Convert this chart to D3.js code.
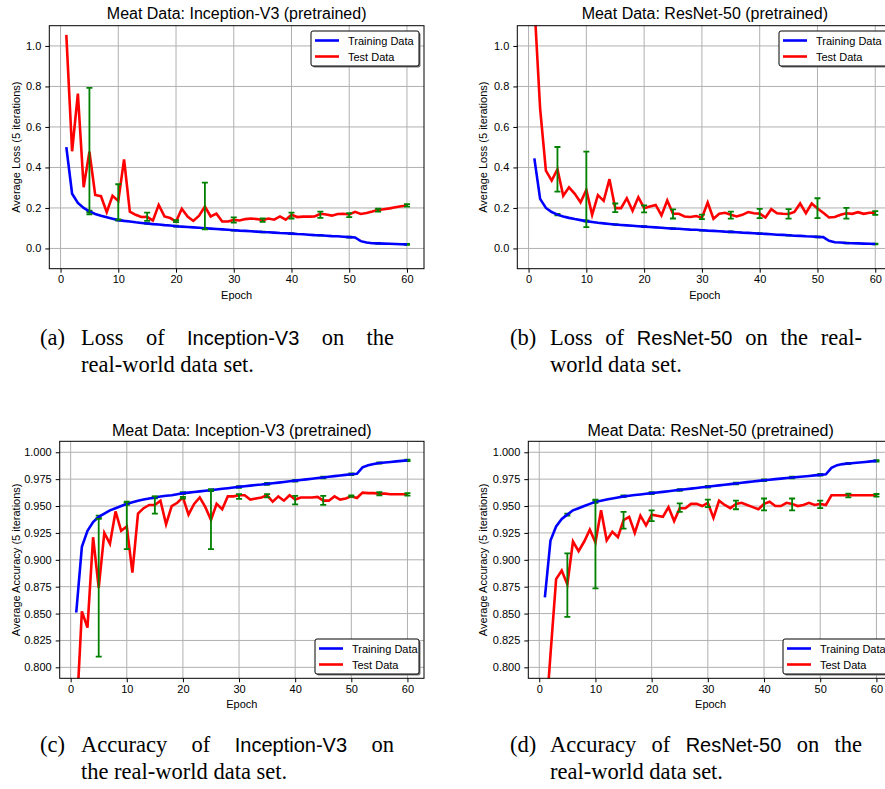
<!DOCTYPE html>
<html lang="en">
<head>
<meta charset="UTF-8">
<title>Meat Data</title>
<script src="https://d3js.org/d3.v7.min.js"></script>
<style>
  body { margin: 0; background: #fff; }
  svg { display: block; }
</style>
</head>
<body>
<div id="container"></div>
<script>
// ---- data ----
var epochs = d3.range(1, 61);
var errEpochs = [5, 10, 15, 20, 25, 30, 35, 40, 45, 50, 55, 60];
var xTicks = [0, 10, 20, 30, 40, 50, 60];
var lossTicks = [0, 0.2, 0.4, 0.6, 0.8, 1.0];
var accTicks = [0.8, 0.825, 0.85, 0.875, 0.9, 0.925, 0.95, 0.975, 1.0];
var seriesNames = ["Training Data", "Test Data"];

var incLossTrain = [0.50, 0.27, 0.225, 0.200, 0.183, 0.170, 0.161, 0.154, 0.147, 0.140,
  0.136, 0.133, 0.129, 0.126, 0.123, 0.120, 0.118, 0.115, 0.113, 0.110,
  0.108, 0.106, 0.104, 0.102, 0.100, 0.098, 0.096, 0.094, 0.092, 0.090,
  0.088, 0.087, 0.085, 0.083, 0.081, 0.080, 0.078, 0.076, 0.075, 0.073,
  0.071, 0.070, 0.068, 0.066, 0.065, 0.063, 0.061, 0.060, 0.058, 0.056,
  0.054, 0.036, 0.029, 0.026, 0.025, 0.024, 0.023, 0.022, 0.021, 0.020];
var incLossTest = [1.055, 0.48, 0.765, 0.302, 0.478, 0.264, 0.258, 0.179, 0.26, 0.235,
  0.44, 0.182, 0.166, 0.155, 0.156, 0.138, 0.215, 0.158, 0.15, 0.133,
  0.196, 0.158, 0.136, 0.162, 0.207, 0.158, 0.172, 0.133, 0.133, 0.141,
  0.138, 0.145, 0.148, 0.145, 0.14, 0.148, 0.142, 0.158, 0.142, 0.166,
  0.155, 0.157, 0.157, 0.158, 0.171, 0.168, 0.162, 0.17, 0.171, 0.168,
  0.181, 0.17, 0.175, 0.182, 0.19, 0.194, 0.198, 0.203, 0.208, 0.212];
var incLossLo = [0.169, 0.141, 0.136, 0.130, 0.094, 0.128, 0.131, 0.148, 0.151, 0.155, 0.182, 0.207];
var incLossHi = [0.793, 0.317, 0.177, 0.140, 0.325, 0.153, 0.148, 0.177, 0.182, 0.174, 0.196, 0.219];

var resLossTrain = [0.445, 0.245, 0.200, 0.180, 0.167, 0.158, 0.151, 0.145, 0.140, 0.135,
  0.131, 0.127, 0.124, 0.121, 0.118, 0.116, 0.114, 0.112, 0.110, 0.108,
  0.106, 0.104, 0.102, 0.100, 0.098, 0.097, 0.095, 0.093, 0.092, 0.090,
  0.088, 0.087, 0.085, 0.083, 0.082, 0.080, 0.078, 0.077, 0.075, 0.073,
  0.072, 0.070, 0.068, 0.067, 0.065, 0.063, 0.062, 0.060, 0.059, 0.057,
  0.056, 0.038, 0.031, 0.029, 0.027, 0.026, 0.025, 0.024, 0.023, 0.022];
var resLossTest = [1.21, 0.69, 0.384, 0.335, 0.391, 0.26, 0.302, 0.27, 0.228, 0.289,
  0.166, 0.263, 0.235, 0.342, 0.199, 0.199, 0.248, 0.186, 0.253, 0.199,
  0.207, 0.215, 0.163, 0.237, 0.171, 0.171, 0.158, 0.155, 0.16, 0.152,
  0.227, 0.147, 0.171, 0.176, 0.166, 0.158, 0.166, 0.18, 0.174, 0.172,
  0.153, 0.194, 0.174, 0.171, 0.17, 0.18, 0.222, 0.174, 0.222, 0.197,
  0.176, 0.153, 0.155, 0.166, 0.174, 0.171, 0.179, 0.171, 0.176, 0.176];
var resLossLo = [0.281, 0.105, 0.179, 0.178, 0.148, 0.145, 0.147, 0.150, 0.147, 0.150, 0.147, 0.166];
var resLossHi = [0.501, 0.478, 0.222, 0.213, 0.193, 0.167, 0.182, 0.195, 0.194, 0.248, 0.200, 0.184];

var incAccTrain = [0.851, 0.912, 0.927, 0.935, 0.940, 0.943, 0.946, 0.948, 0.950, 0.952,
  0.9535, 0.955, 0.956, 0.957, 0.958, 0.9588, 0.9595, 0.960, 0.961, 0.962,
  0.9625, 0.963, 0.9636, 0.9642, 0.9648, 0.9654, 0.966, 0.9666, 0.9672, 0.9678,
  0.9684, 0.969, 0.9696, 0.970, 0.9706, 0.9712, 0.9718, 0.9724, 0.973, 0.9736,
  0.9742, 0.9748, 0.9754, 0.976, 0.9766, 0.9772, 0.9778, 0.9784, 0.979, 0.9796,
  0.980, 0.986, 0.988, 0.989, 0.990, 0.9905, 0.991, 0.9915, 0.992, 0.9925];
var incAccTest = [0.75, 0.852, 0.837, 0.921, 0.874, 0.925, 0.915, 0.945, 0.927, 0.931,
  0.888, 0.943, 0.948, 0.951, 0.951, 0.955, 0.933, 0.950, 0.953, 0.958,
  0.942, 0.952, 0.958, 0.949, 0.937, 0.952, 0.947, 0.959, 0.959, 0.960,
  0.960, 0.956, 0.957, 0.958, 0.960, 0.954, 0.959, 0.955, 0.960, 0.956,
  0.958, 0.958, 0.958, 0.9585, 0.955, 0.955, 0.959, 0.956, 0.957, 0.959,
  0.9575, 0.9625, 0.962, 0.962, 0.9615, 0.9615, 0.961, 0.961, 0.961, 0.961];
var incAccLo = [0.810, 0.910, 0.943, 0.957, 0.910, 0.9566, 0.958, 0.9516, 0.951, 0.9585, 0.960, 0.9597];
var incAccHi = [0.938, 0.954, 0.959, 0.9585, 0.965, 0.961, 0.961, 0.9594, 0.9594, 0.960, 0.9628, 0.962];

var resAccTrain = [0.865, 0.918, 0.931, 0.938, 0.942, 0.946, 0.948, 0.950, 0.952, 0.954,
  0.955, 0.956, 0.957, 0.958, 0.959, 0.9596, 0.9602, 0.9608, 0.9614, 0.962,
  0.9626, 0.9632, 0.9638, 0.9644, 0.965, 0.9656, 0.9662, 0.9668, 0.9674, 0.968,
  0.9686, 0.9692, 0.9698, 0.9704, 0.971, 0.9716, 0.9722, 0.9728, 0.9734, 0.974,
  0.9745, 0.975, 0.9755, 0.976, 0.9765, 0.977, 0.9775, 0.978, 0.9785, 0.979,
  0.9795, 0.9855, 0.988, 0.989, 0.9895, 0.990, 0.9905, 0.991, 0.9915, 0.992];
var resAccTest = [0.74, 0.812, 0.882, 0.890, 0.877, 0.917, 0.908, 0.917, 0.928, 0.916,
  0.946, 0.918, 0.926, 0.921, 0.937, 0.940, 0.925, 0.941, 0.932, 0.942,
  0.941, 0.940, 0.949, 0.936, 0.948, 0.948, 0.952, 0.952, 0.950, 0.953,
  0.939, 0.955, 0.951, 0.948, 0.952, 0.953, 0.951, 0.949, 0.947, 0.952,
  0.954, 0.950, 0.950, 0.953, 0.952, 0.950, 0.951, 0.953, 0.951, 0.952,
  0.951, 0.960, 0.960, 0.960, 0.960, 0.960, 0.960, 0.960, 0.960, 0.960];
var resAccLo = [0.847, 0.8735, 0.929, 0.936, 0.9445, 0.949, 0.947, 0.946, 0.946, 0.948, 0.958, 0.9587];
var resAccHi = [0.906, 0.956, 0.9445, 0.946, 0.9525, 0.956, 0.955, 0.957, 0.957, 0.955, 0.9616, 0.9612];

// spread of the training runs (very small, only the caps peek out at the line ends)
var lossTrainErr = [0.004, 0.003, 0.002, 0.002, 0.002, 0.002, 0.002, 0.002, 0.002, 0.002, 0.002, 0.002];
var accTrainErr = [0.001, 0.001, 0.0008, 0.0008, 0.0008, 0.0008, 0.0008, 0.0008, 0.0008, 0.0008, 0.0006, 0.0006];

// ---- layout ----
var W = 885, H = 789;
var sansFont = "'Liberation Sans', Arial, Helvetica, sans-serif";
var serifFont = "'Liberation Serif', 'Times New Roman', serif";
var xDomain = [-1.95, 62.95];

var panels = [
  { box: { l: 49.3, r: 424, t: 25.7, b: 268.7 }, yDomain: [-0.1, 1.1], ticks: lossTicks, fmt: ".1f",
    title: "Meat Data: Inception-V3 (pretrained)", titleY: 19, ylabel: "Average Loss (5 iterations)", ylabelX: 19.5,
    train: incLossTrain, test: incLossTest, lo: incLossLo, hi: incLossHi, trainErr: lossTrainErr,
    legend: { x: 311, y: 31, w: 108 } },
  { box: { l: 517.3, r: 892.3, t: 25.7, b: 268.7 }, yDomain: [-0.1, 1.1], ticks: lossTicks, fmt: ".1f",
    title: "Meat Data: ResNet-50 (pretrained)", titleY: 19, ylabel: "Average Loss (5 iterations)", ylabelX: 487,
    train: resLossTrain, test: resLossTest, lo: resLossLo, hi: resLossHi, trainErr: lossTrainErr,
    legend: { x: 779, y: 31, w: 108 } },
  { box: { l: 59.7, r: 424, t: 441.3, b: 678.3 }, yDomain: [0.7898, 1.0102], ticks: accTicks, fmt: ".3f",
    title: "Meat Data: Inception-V3 (pretrained)", titleY: 436, ylabel: "Average Accuracy (5 iterations)", ylabelX: 19.5,
    train: incAccTrain, test: incAccTest, lo: incAccLo, hi: incAccHi, trainErr: accTrainErr,
    legend: { x: 315, y: 639, w: 104 } },
  { box: { l: 528.3, r: 893, t: 441.3, b: 678.3 }, yDomain: [0.7898, 1.0102], ticks: accTicks, fmt: ".3f",
    title: "Meat Data: ResNet-50 (pretrained)", titleY: 436, ylabel: "Average Accuracy (5 iterations)", ylabelX: 487,
    train: resAccTrain, test: resAccTest, lo: resAccLo, hi: resAccHi, trainErr: accTrainErr,
    legend: { x: 783, y: 639, w: 108 } }
];

// sub-captions: label, justified first line, hanging second line
var captions = [
  { x0: 40, indent: 81, x1: 394, y: 345, label: "(a)", line1: "Loss of *Inception-V3* on the", line2: "real-world data set." },
  { x0: 510, indent: 550, x1: 862, y: 345, label: "(b)", line1: "Loss of *ResNet-50* on the real-", line2: "world data set." },
  { x0: 40, indent: 81, x1: 394, y: 752, label: "(c)", line1: "Accuracy of *Inception-V3* on", line2: "the real-world data set." },
  { x0: 510, indent: 550, x1: 862, y: 752, label: "(d)", line1: "Accuracy of *ResNet-50* on the", line2: "real-world data set." }
];
var captionLeading = 27;

var svg = d3.select("#container").append("svg")
  .attr("width", W).attr("height", H);
svg.append("rect").attr("width", W).attr("height", H).attr("fill", "#fff");

function drawPanel(p, i) {
  var x = d3.scaleLinear().domain(xDomain).range([p.box.l, p.box.r]);
  var y = d3.scaleLinear().domain(p.yDomain).range([p.box.b, p.box.t]);
  var g = svg.append("g");
  var clipId = "clip" + i;
  g.append("clipPath").attr("id", clipId).append("rect")
    .attr("x", p.box.l).attr("y", p.box.t)
    .attr("width", p.box.r - p.box.l).attr("height", p.box.b - p.box.t);

  // grid
  var grid = g.append("g").attr("stroke", "#b0b0b0").attr("stroke-width", 1);
  grid.selectAll(".vx").data(xTicks).join("line")
    .attr("x1", d => x(d)).attr("x2", d => x(d))
    .attr("y1", p.box.t).attr("y2", p.box.b);
  grid.selectAll(".hy").data(p.ticks).join("line")
    .attr("x1", p.box.l).attr("x2", p.box.r)
    .attr("y1", d => y(d)).attr("y2", d => y(d));

  // axes
  var xa = g.append("g").attr("transform", "translate(0," + p.box.b + ")")
    .call(d3.axisBottom(x).tickValues(xTicks).tickSize(4).tickSizeOuter(0).tickPadding(3));
  var ya = g.append("g").attr("transform", "translate(" + p.box.l + ",0)")
    .call(d3.axisLeft(y).tickValues(p.ticks).tickFormat(d3.format(p.fmt)).tickSize(4).tickSizeOuter(0).tickPadding(4));
  [xa, ya].forEach(function (a) {
    a.select(".domain").remove();
    a.attr("font-family", sansFont).attr("font-size", 11);
    a.selectAll("text").attr("fill", "#000");
    a.selectAll("line").attr("stroke", "#000");
  });

  var plot = g.append("g").attr("clip-path", "url(#" + clipId + ")");
  var line = d3.line().x((d, k) => x(epochs[k])).y(d => y(d));

  function errorBars(lo, hi) {
    var eb = plot.append("g").attr("stroke", "#008000").attr("stroke-width", 1.8);
    eb.selectAll(".v").data(errEpochs).join("line")
      .attr("x1", d => x(d)).attr("x2", d => x(d))
      .attr("y1", (d, k) => y(lo[k])).attr("y2", (d, k) => y(hi[k]));
    eb.selectAll(".lo").data(errEpochs).join("line")
      .attr("x1", d => x(d) - 3).attr("x2", d => x(d) + 3)
      .attr("y1", (d, k) => y(lo[k])).attr("y2", (d, k) => y(lo[k]));
    eb.selectAll(".hi").data(errEpochs).join("line")
      .attr("x1", d => x(d) - 3).attr("x2", d => x(d) + 3)
      .attr("y1", (d, k) => y(hi[k])).attr("y2", (d, k) => y(hi[k]));
  }

  var trainAt = errEpochs.map(e => p.train[e - 1]);
  errorBars(trainAt.map((v, k) => v - p.trainErr[k]), trainAt.map((v, k) => v + p.trainErr[k]));
  plot.append("path").datum(p.train).attr("d", line)
    .attr("fill", "none").attr("stroke", "#0000ff").attr("stroke-width", 2.6);
  plot.append("path").datum(p.test).attr("d", line)
    .attr("fill", "none").attr("stroke", "#ff0000").attr("stroke-width", 2.6);
  errorBars(p.lo, p.hi);

  // frame
  g.append("rect").attr("x", p.box.l).attr("y", p.box.t)
    .attr("width", p.box.r - p.box.l).attr("height", p.box.b - p.box.t)
    .attr("fill", "none").attr("stroke", "#000").attr("stroke-width", 1);

  // title and labels
  g.append("text").attr("x", (p.box.l + p.box.r) / 2).attr("y", p.titleY)
    .attr("text-anchor", "middle").attr("font-family", sansFont).attr("font-size", 16)
    .text(p.title);
  g.append("text").attr("x", (p.box.l + p.box.r) / 2).attr("y", p.box.b + 30)
    .attr("text-anchor", "middle").attr("font-family", sansFont).attr("font-size", 11)
    .text("Epoch");
  g.append("text")
    .attr("transform", "translate(" + p.ylabelX + "," + (p.box.t + p.box.b) / 2 + ") rotate(-90)")
    .attr("text-anchor", "middle").attr("font-family", sansFont).attr("font-size", 11)
    .text(p.ylabel);

  // legend
  var L = p.legend;
  var lg = g.append("g");
  lg.append("rect").attr("x", L.x + 1.5).attr("y", L.y + 1.5).attr("width", L.w).attr("height", 35)
    .attr("rx", 2).attr("fill", "#777");
  lg.append("rect").attr("x", L.x).attr("y", L.y).attr("width", L.w).attr("height", 35)
    .attr("rx", 2).attr("fill", "#fff").attr("stroke", "#000").attr("stroke-width", 1);
  var colors = ["#0000ff", "#ff0000"];
  seriesNames.forEach(function (name, k) {
    var ry = L.y + 9.5 + k * 16;
    lg.append("line").attr("x1", L.x + 4).attr("x2", L.x + 28).attr("y1", ry).attr("y2", ry)
      .attr("stroke", colors[k]).attr("stroke-width", 2.6);
    lg.append("text").attr("x", L.x + 37).attr("y", ry + 4)
      .attr("font-family", sansFont).attr("font-size", 11).text(name);
  });
}

panels.forEach(drawPanel);

// captions: serif text, model names in sans (*...*), first line justified
function wordRun(text, xStart, xEnd, y) {
  var words = text.split(" ");
  var nodes = words.map(function (w) {
    var sans = w.charAt(0) === "*";
    return svg.append("text").attr("y", y)
      .attr("font-family", sans ? sansFont : serifFont)
      .attr("font-size", sans ? 20 : 22.5)
      .attr("fill", "#000")
      .text(w.replace(/\*/g, ""));
  });
  var widths = nodes.map(n => n.node().getComputedTextLength());
  var gap = xEnd ? (xEnd - xStart - d3.sum(widths)) / (words.length - 1) : 5.6;
  var cx = xStart;
  nodes.forEach(function (n, k) { n.attr("x", cx); cx += widths[k] + gap; });
}
captions.forEach(function (c) {
  svg.append("text").attr("x", c.x0).attr("y", c.y)
    .attr("font-family", serifFont).attr("font-size", 22.5).text(c.label);
  wordRun(c.line1, c.indent, c.x1, c.y);
  wordRun(c.line2, c.indent, null, c.y + captionLeading);
});
</script>
</body>
</html>
